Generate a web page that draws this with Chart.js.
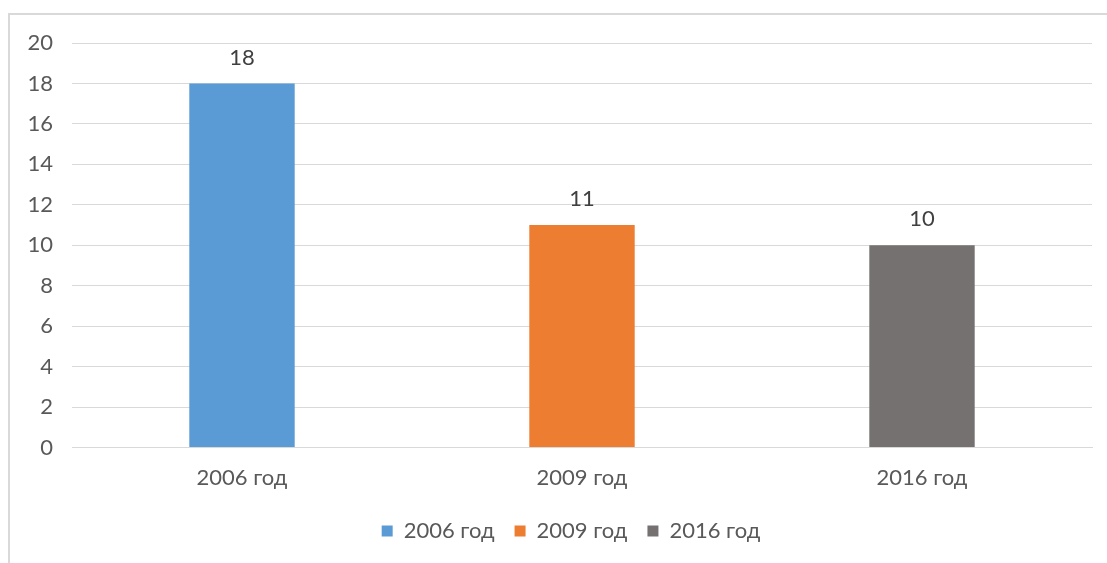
<!DOCTYPE html>
<html>
<head>
<meta charset="utf-8">
<script src="https://cdn.jsdelivr.net/npm/chart.js@4"></script>
<style>
    html, body { margin: 0; padding: 0; background: #fff; }
    #wrap { position: relative; width: 1107px; height: 563px; overflow: hidden; }
    #frame { position: absolute; left: 8px; top: 13px; width: 1200px; height: 700px;
             border-left: 2px solid #d9d9d9; border-top: 2px solid #d9d9d9; }
    canvas { position: absolute; left: 0; top: 0; }
</style>
</head>
<body>
<div id="wrap">
    <div id="frame"></div>
    <canvas id="myChart" width="1107" height="563"></canvas>
</div>
<script>
var categories = ['2006 год', '2009 год', '2016 год'];
var values = [18, 11, 10];
var barColors = ['#5b9bd5', '#ed7d31', '#767171'];
var yTicks = [0, 2, 4, 6, 8, 10, 12, 14, 16, 18, 20];

var textColor = '#595959';
var fontFamily = 'Lato, "Liberation Sans", sans-serif';
var fontSize = 22;

// подписи значений над столбцами
var valueLabels = {
    id: 'valueLabels',
    afterDatasetsDraw: function(chart) {
        var ctx = chart.ctx;
        var meta = chart.getDatasetMeta(0);
        ctx.save();
        ctx.font = fontSize + 'px ' + fontFamily;
        ctx.fillStyle = '#404040';
        ctx.textAlign = 'center';
        ctx.textBaseline = 'middle';
        meta.data.forEach(function(bar, i) {
            ctx.fillText(String(values[i]), bar.x, bar.y - 26);
        });
        ctx.restore();
    }
};

// легенда в оригинале чуть правее центра
var shiftLegend = {
    id: 'shiftLegend',
    afterLayout: function(chart) {
        chart.legend.left += 20;
        chart.legend.right += 20;
    }
};

var ctx = document.getElementById('myChart').getContext('2d');
var chart = new Chart(ctx, {
    type: 'bar',
    data: {
        labels: categories,
        datasets: [{
            data: values,
            backgroundColor: barColors,
            borderWidth: 0,
            categoryPercentage: 1,
            barPercentage: 0.31
        }]
    },
    options: {
        responsive: false,
        animation: false,
        layout: {
            padding: { left: 10, right: 15, top: 43, bottom: 11 }
        },
        scales: {
            x: {
                grid: { display: false },
                border: { display: true, color: '#d9d9d9' },
                ticks: {
                    color: textColor,
                    font: { family: fontFamily, size: fontSize },
                    padding: 9
                }
            },
            y: {
                min: 0,
                max: 20,
                afterBuildTicks: function(scale) {
                    scale.ticks = yTicks.map(function(v) { return { value: v }; });
                },
                afterFit: function(scale) {
                    scale.width = 62;
                },
                grid: { color: '#d9d9d9', drawTicks: false },
                border: { display: false },
                ticks: {
                    color: textColor,
                    font: { family: fontFamily, size: fontSize },
                    padding: 19
                }
            }
        },
        plugins: {
            tooltip: { enabled: false },
            legend: {
                position: 'bottom',
                labels: {
                    color: textColor,
                    font: { family: fontFamily, size: fontSize },
                    boxWidth: 11,
                    boxHeight: 11,
                    padding: 20,
                    generateLabels: function() {
                        return categories.map(function(c, i) {
                            return {
                                text: c,
                                fillStyle: barColors[i],
                                strokeStyle: barColors[i],
                                lineWidth: 0,
                                fontColor: textColor,
                                index: i
                            };
                        });
                    }
                }
            }
        }
    },
    plugins: [valueLabels, shiftLegend]
});
</script>
</body>
</html>
